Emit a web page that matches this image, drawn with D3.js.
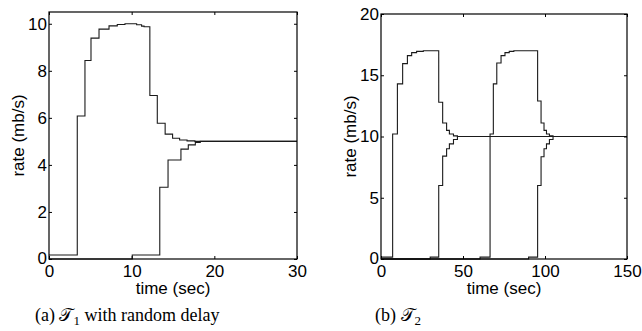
<!DOCTYPE html>
<html>
<head>
<meta charset="utf-8">
<script src="https://cdn.jsdelivr.net/npm/d3@7"></script>
<style>
  body { margin: 0; background: #fff; }
  svg { display: block; }
  .tick text { font-family: "Liberation Sans", Arial, sans-serif; font-size: 17px; fill: #000; }
  .lbl { font-family: "Liberation Sans", Arial, sans-serif; font-size: 17px; fill: #000; }
  .cap { font-family: "Liberation Serif", "Times New Roman", serif; font-size: 18px; fill: #000; }
</style>
</head>
<body>
<div id="chart"></div>
<script>
// (a) T1 with random delay
const aTime1 = [0, 3.42, 4.35, 5.08, 6.05, 7.26, 8.26, 9.19, 10.6, 11.2, 11.5, 12.2, 13.1, 14.05, 14.95, 15.8, 16.7, 17.65, 30];
const aRate1 = [0.17, 6.08, 8.44, 9.39, 9.77, 9.91, 9.97, 10.0, 9.96, 9.9, 9.87, 6.95, 5.77, 5.31, 5.13, 5.06, 5.02, 5.0, 5.0];
const aTime2 = [0, 10.07, 13.4, 14.4, 15.96, 16.85, 17.7, 18.3, 30];
const aRate2 = [0, 0.17, 3.05, 4.21, 4.67, 4.85, 4.95, 5.0, 5.0];
const aXTicks = [0, 10, 20, 30];
const aYTicks = [0, 2, 4, 6, 8, 10];

// (b) T2
const bTime1 = [0, 7.1, 10.0, 13.2, 16.1, 18.7, 21.7, 25.8, 35.2, 37.6, 40.0, 41.7, 44.2, 46.6, 150];
const bRate1 = [0.15, 10.2, 14.3, 15.95, 16.6, 16.85, 16.95, 17.0, 12.8, 11.1, 10.5, 10.2, 10.05, 10.0, 10.0];
const bTime2 = [0, 30.0, 35.2, 37.6, 40.0, 41.7, 44.2, 46.6, 150];
const bRate2 = [0, 0.15, 6.0, 8.4, 9.0, 9.4, 9.75, 10.0, 10.0];
const bTime3 = [0, 60.4, 66.5, 68.5, 70.6, 73.2, 75.6, 78.2, 81.0, 95.5, 97.6, 99.4, 100.9, 102.7, 104.9, 150];
const bRate3 = [0, 0.15, 10.2, 14.3, 16.0, 16.6, 16.85, 16.95, 17.0, 12.9, 11.1, 10.5, 10.2, 10.05, 10.0, 10.0];
const bTime4 = [0, 90.0, 95.5, 97.6, 99.4, 100.9, 102.7, 104.9, 150];
const bRate4 = [0, 0.15, 6.0, 8.35, 9.0, 9.4, 9.75, 10.0, 10.0];
const bXTicks = [0, 50, 100, 150];
const bYTicks = [0, 5, 10, 15, 20];

const width = 642, height = 331;

const svg = d3.select('#chart').append('svg')
    .attr('width', width)
    .attr('height', height);

function zip(ts, vs) {
    return ts.map(function(t, i) { return [t, vs[i]]; });
}

function panel(opt) {
    let x = d3.scaleLinear().domain(opt.xDomain).range([opt.left, opt.right]);
    let y = d3.scaleLinear().domain(opt.yDomain).range([opt.bottom, opt.top]);

    let g = svg.append('g');

    // series
    let line = d3.line()
        .x(function(d) { return x(d[0]); })
        .y(function(d) { return y(d[1]); })
        .curve(d3.curveStepAfter);

    opt.series.forEach(function(s) {
        g.append('path')
            .datum(zip(s[0], s[1]))
            .attr('d', line)
            .attr('fill', 'none')
            .attr('stroke', '#1a1a1a')
            .attr('stroke-width', 1.1);
    });

    // axes, ticks pointing inside
    g.append('g')
        .attr('transform', 'translate(0,' + opt.bottom + ')')
        .call(d3.axisBottom(x).tickValues(opt.xTicks).tickSizeInner(-3).tickSizeOuter(0).tickPadding(6));
    let left = g.append('g')
        .attr('transform', 'translate(' + opt.left + ',0)')
        .call(d3.axisLeft(y).tickValues(opt.yTicks).tickSizeInner(-3).tickSizeOuter(0).tickPadding(2));
    g.append('g')
        .attr('transform', 'translate(0,' + opt.top + ')')
        .call(d3.axisTop(x).tickValues(opt.xTicks).tickSizeInner(-3).tickSizeOuter(0).tickFormat(''));
    g.append('g')
        .attr('transform', 'translate(' + opt.right + ',0)')
        .call(d3.axisRight(y).tickValues(opt.yTicks).tickSizeInner(-3).tickSizeOuter(0).tickFormat(''));

    g.selectAll('.domain').remove();
    g.selectAll('.tick line').attr('stroke', '#000');

    // keep the y "0" just clear of the x "0"
    left.selectAll('.tick text').filter(function(d) { return d === 0; }).attr('dy', '0.25em');

    // frame
    g.append('rect')
        .attr('x', opt.left)
        .attr('y', opt.top)
        .attr('width', opt.right - opt.left)
        .attr('height', opt.bottom - opt.top)
        .attr('fill', 'none')
        .attr('stroke', '#000')
        .attr('stroke-width', 1.2);

    g.append('text')
        .attr('class', 'lbl')
        .attr('text-anchor', 'middle')
        .attr('x', (opt.left + opt.right) / 2)
        .attr('y', opt.bottom + 35)
        .text('time (sec)');

    g.append('text')
        .attr('class', 'lbl')
        .attr('text-anchor', 'middle')
        .attr('transform', 'translate(' + (opt.left - 25) + ',' + ((opt.top + opt.bottom) / 2) + ') rotate(-90)')
        .text('rate (mb/s)');

    let cap = g.append('text')
        .attr('class', 'cap')
        .attr('x', opt.capX)
        .attr('y', 321);
    cap.append('tspan').text(opt.capPre);
    cap.append('tspan').text('\u{1D4AF}');
    cap.append('tspan').attr('dy', 4).attr('font-size', 13).text(opt.capSub);
    if (opt.capPost) {
        cap.append('tspan').attr('dy', -4).text(opt.capPost);
    }
}

panel({
    left: 49, right: 297, top: 12, bottom: 259,
    xDomain: [0, 30], yDomain: [0, 10.5],
    xTicks: aXTicks, yTicks: aYTicks,
    series: [[aTime1, aRate1], [aTime2, aRate2]],
    capX: 35, capPre: '(a) ', capSub: '1', capPost: ' with random delay'
});

panel({
    left: 381, right: 627, top: 14, bottom: 259,
    xDomain: [0, 150], yDomain: [0, 20],
    xTicks: bXTicks, yTicks: bYTicks,
    series: [[bTime1, bRate1], [bTime2, bRate2], [bTime3, bRate3], [bTime4, bRate4]],
    capX: 375, capPre: '(b) ', capSub: '2', capPost: ''
});
</script>
</body>
</html>
